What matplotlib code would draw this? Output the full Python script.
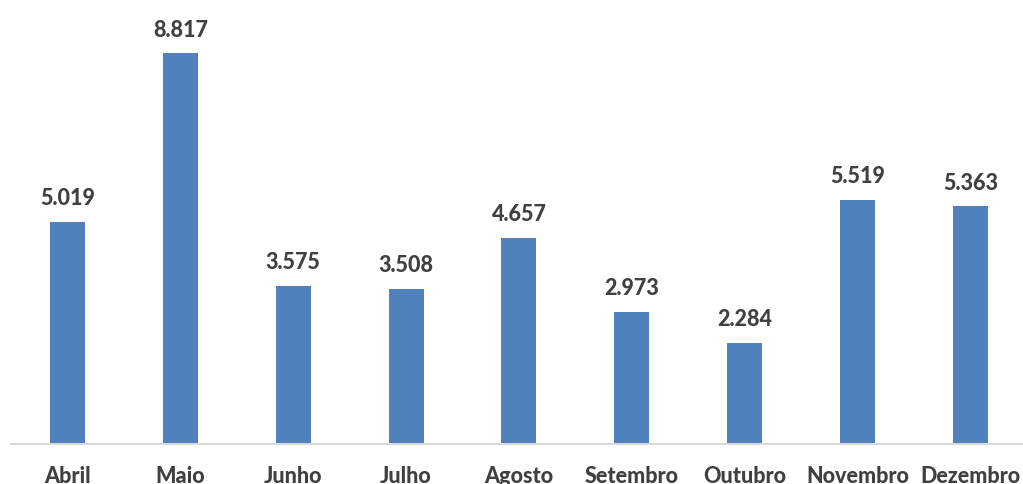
import numpy as np
import matplotlib.pyplot as plt

meses = ['Abril', 'Maio', 'Junho', 'Julho', 'Agosto', 'Setembro', 'Outubro', 'Novembro', 'Dezembro']
valores = [5.019, 8.817, 3.575, 3.508, 4.657, 2.973, 2.284, 5.519, 5.363]
rotulos = ['5.019', '8.817', '3.575', '3.508', '4.657', '2.973', '2.284', '5.519', '5.363']

azul = '#4F81BD'
cinza_txt = '#404040'

plt.rcParams['font.family'] = ['Lato', 'DejaVu Sans']

fig = plt.figure(figsize=(10.23, 4.85), dpi=100)
# axes slightly wider than the figure, the last category is clipped in the original
ax = fig.add_axes([11 / 1023, 40 / 485, 9 * 112.875 / 1023, 443 / 485])

x = np.arange(len(meses))
bars = ax.bar(x, valores, width=0.31, color=azul, zorder=2)

for xi, v, r in zip(x, valores, rotulos):
    ax.annotate(r, (xi, v), xytext=(0, 10), textcoords='offset points',
                ha='center', va='bottom', fontsize=15.5, fontweight='black', color=cinza_txt)

ax.set_xlim(-0.5, len(meses) - 0.5)
ax.set_ylim(0, 10)
ax.set_xticks(x)
ax.set_xticklabels(meses, fontsize=15.5, fontweight='black', color=cinza_txt)
ax.tick_params(axis='x', length=0, pad=15)
ax.set_yticks([])
for s in ['top', 'right', 'left']:
    ax.spines[s].set_visible(False)
ax.spines['bottom'].set_color('#D9D9D9')
ax.spines['bottom'].set_linewidth(1.5)

fig.savefig('out.png', dpi=100)
